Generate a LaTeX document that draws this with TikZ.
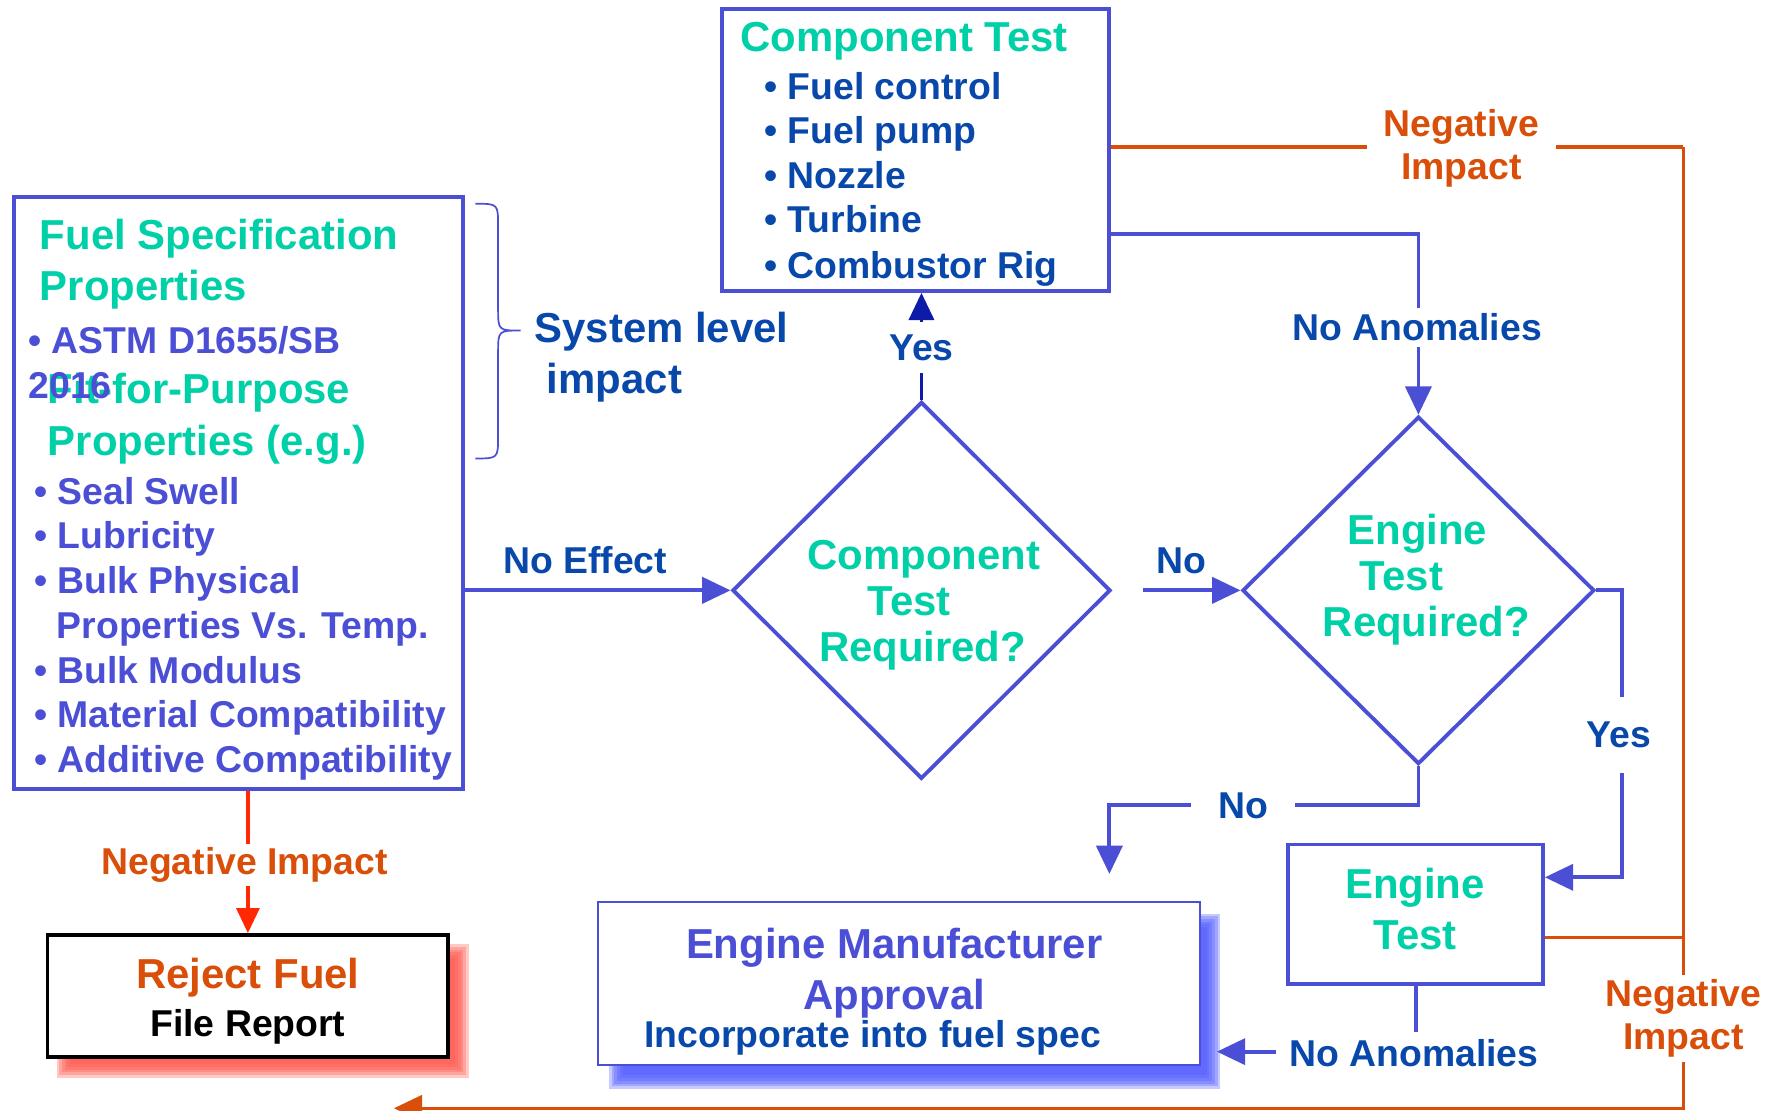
\documentclass[tikz,border=0pt]{standalone}
\usepackage{fontspec}
\setmainfont{Liberation Sans}
\usetikzlibrary{shapes.geometric,arrows.meta,calc}
\definecolor{boxblue}{RGB}{75,79,214}
\definecolor{tealg}{RGB}{0,208,168}
\definecolor{navy}{RGB}{8,72,170}
\definecolor{arrnavy}{RGB}{14,26,168}
\definecolor{orng}{RGB}{217,78,8}
\definecolor{redarr}{RGB}{255,40,0}
\definecolor{redshadow}{RGB}{255,88,78}
\definecolor{blueshadow}{RGB}{82,92,255}

\newcommand\softshadow[5]{%
  \foreach \k in {0,...,5}{%
    \pgfmathsetmacro\shE{6-2.4*\k}%
    \fill[#1,opacity=0.32] ({#2-\shE},{#3-\shE}) rectangle ({#4+\shE},{#5+\shE});
  }}

\begin{document}
\begin{tikzpicture}[x=1pt,y=-1pt,
  big/.style={inner sep=0pt,font=\bfseries\fontsize{37}{44}\selectfont},
  sml/.style={inner sep=0pt,font=\bfseries\fontsize{33}{39}\selectfont},
  ttl/.style={big,text=tealg},
  itm/.style={sml,text=boxblue,anchor=mid west},
  citm/.style={sml,text=navy,anchor=mid west},
  lbl/.style={sml,text=navy},
  olbl/.style={sml,text=orng,align=center},
  gap/.style={fill=white},
  frame/.style={draw=boxblue,line width=3.4pt,fill=white,inner sep=0pt},
  bline/.style={draw=boxblue,line width=3.4pt},
  oline/.style={draw=orng,line width=3pt},
  barrow/.style={bline,-{Triangle[length=25pt,width=23pt]}},
  oarrow/.style={oline,-{Triangle[length=25pt,width=23pt]}},
  rarrow/.style={draw=redarr,line width=3.4pt,-{Triangle[length=22pt,width=20pt]}},
  narrow/.style={draw=arrnavy,line width=3.4pt,-{Triangle[length=24pt,width=22pt]}}
]
\useasboundingbox (0,0) rectangle (1568,981);
\fill[white] (0,0) rectangle (1568,981);

% shadows
\softshadow{redshadow}{56}{840}{408}{946}
\softshadow{blueshadow}{544}{813}{1072}{956}

% main shapes
\node[frame,minimum width=397pt,minimum height=523pt] (spec) at (210.5,435.5) {};
\node[frame,minimum width=342pt,minimum height=249pt] (comp) at (809,132.5) {};
\node[diamond,frame,minimum width=334pt,minimum height=333pt] (d1) at (814,521.5) {};
\node[diamond,frame,minimum width=311pt,minimum height=307pt] (d2) at (1253,521.5) {};
\node[frame,minimum width=225pt,minimum height=123pt] (et) at (1250.5,807.5) {};
\node[draw=boxblue,line width=1.6pt,fill=white,minimum width=532pt,minimum height=144pt] (ema) at (794,869) {};
\node[draw=black,line width=3.4pt,fill=white,minimum width=354pt,minimum height=108pt] (rj) at (219,880) {};

% brace
\draw[boxblue,line width=1.5pt] (420,180) .. controls (440,180) .. (440,200) -- (440,272)
  .. controls (440,292) .. (460,292) .. controls (440,292) .. (440,312) -- (440,385)
  .. controls (440,405) .. (420,405);

% left box texts
\node[ttl,anchor=mid west] (fs1) at (35,218) {Fuel Specification};
\node[ttl,anchor=mid west] (fs2) at (35,263) {Properties};
\node[itm] (astm) at (25,310) {• ASTM D1655/SB};
\node[ttl,anchor=mid west] (ffp1) at (42,354) {Fit-for-Purpose};
\node[itm] (y2016) at (25,349) {2016};
\node[ttl,anchor=mid west] (ffp2) at (42,400) {Properties (e.g.)};
\node[itm] (i1) at (30,443) {• Seal Swell};
\node[itm] (i2) at (30,482) {• Lubricity};
\node[itm] (i3) at (30,522) {• Bulk Physical};
\node[itm] (i3b) at (50,561) {Properties Vs. Temp.};
\node[itm] (i4) at (30,601) {• Bulk Modulus};
\node[itm] (i5) at (30,640) {• Material Compatibility};
\node[itm] (i6) at (30,680) {• Additive Compatibility};

% component box texts
\node[ttl,anchor=mid west] (ct) at (654,43) {Component Test};
\node[citm] (c1) at (675,85) {• Fuel control};
\node[citm] (c2) at (675,124) {• Fuel pump};
\node[citm] (c3) at (675,164) {• Nozzle};
\node[citm] (c4) at (675,203) {• Turbine};
\node[citm] (c5) at (675,243) {• Combustor Rig};

% system level
\node[big,text=navy,anchor=mid west] (sl1) at (472,300) {System level};
\node[big,text=navy,anchor=mid west] (sl2) at (483,345) {impact};

% diamond texts
\node[ttl,anchor=mid] (d1a) at (816,500) {Component};
\node[ttl,anchor=mid] (d1b) at (803,541) {Test};
\node[ttl,anchor=mid] (d1c) at (815,582) {Required?};
\node[ttl,anchor=mid] (d2a) at (1252,478) {Engine};
\node[ttl,anchor=mid] (d2b) at (1238,519) {Test};
\node[ttl,anchor=mid] (d2c) at (1260,560) {Required?};

% engine test texts
\node[ttl,anchor=mid] (eta) at (1250,791) {Engine};
\node[ttl,anchor=mid] (etb) at (1250,836) {Test};

% approval texts
\node[big,text=boxblue,anchor=mid] (em1) at (790,844) {Engine Manufacturer};
\node[big,text=boxblue,anchor=mid] (em2) at (790,889) {Approval};
\node[sml,text=navy,anchor=mid] (em3) at (771,923) {Incorporate into fuel spec};

% reject texts
\node[big,text=orng,anchor=mid] (rj1) at (219,871) {Reject Fuel};
\node[sml,text=black,anchor=mid] (rj2) at (219,913) {File Report};

% coordinates
\coordinate (noend) at (980,772);
\coordinate (nostart) at (1010,521.5);
\coordinate (rail) at (1487,130);
\coordinate (botend) at (348,979);
\coordinate (naend) at (1075,929);

% connectors
\draw[barrow] (spec.east |- d1.west) -- (d1.west);
\draw[narrow] (d1.north) -- (d1.north |- comp.south);
\draw[barrow] (comp.east |- 0,207) -- (d2.north |- 0,207) -- (d2.north);
\draw[barrow] (nostart) -- (d2.west);
\draw[barrow] (d2.east) -- (1433,521.5) -- (1433,775) -- (et.east |- 0,775);
\draw[barrow] (d2.south) -- (d2.south |- 0,711) -- (noend |- 0,711) -- (noend);
\draw[barrow] (et.south) -- (et.south |- naend) -- (naend);
\draw[oline] (comp.east |- rail) -- (rail);
\draw[oarrow] (rail) -- (rail |- botend) -- (botend);
\draw[oline] (et.east |- 0,828) -- (rail |- 0,828);
\draw[rarrow] (rj.north |- spec.south) -- (rj.north);

% labels
\node[lbl] (lnoeff) at (517,495) {No Effect};
\node[lbl] (lno1) at (1044,495) {No};
\node[lbl,gap,inner xsep=4pt,inner ysep=11pt] (lyes1) at (814,307) {Yes};
\node[lbl,gap,inner xsep=4pt,inner ysep=5pt] (lna1) at (1252,289) {No Anomalies};
\node[lbl,gap,inner xsep=4pt,inner ysep=22pt] (lyes2) at (1430,649) {Yes};
\node[lbl,gap,inner xsep=24pt,inner ysep=4pt] (lno2) at (1098,712) {No};
\node[lbl,gap,inner xsep=12pt,inner ysep=6pt] (lna2) at (1249,930) {No Anomalies};
\node[olbl,gap,inner xsep=4pt,inner ysep=3pt] (lneg0) at (216,764) {Negative Impact};
\node[olbl,gap,inner xsep=15pt,inner ysep=3pt] (lneg1) at (1291,131) {Negative\\[-1pt]Impact};
\node[olbl,gap,inner xsep=4pt,inner ysep=4pt] (lneg2) at (1487,900) {Negative\\[-1pt]Impact};
\end{tikzpicture}
\end{document}
